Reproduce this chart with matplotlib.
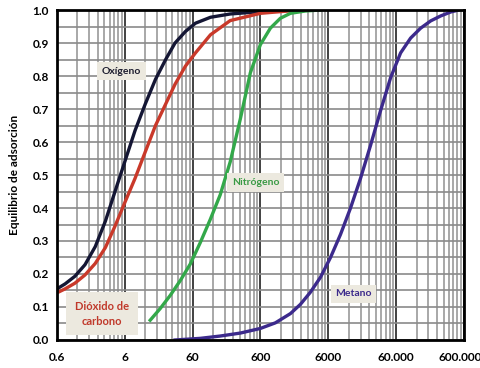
import numpy as np
import matplotlib
matplotlib.use('Agg')
import matplotlib.pyplot as plt
import matplotlib.transforms as mtransforms
from matplotlib.ticker import FixedLocator, NullFormatter

plt.rcParams['font.family'] = ['Lato', 'DejaVu Sans']
plt.rcParams['font.weight'] = 'bold'

# Datos (presion, equilibrio de adsorcion)
oxigeno_x = [0.6, 0.79, 1.1, 1.55, 2.2, 3.1, 4.3, 6.1, 8.5, 12, 17, 24, 33, 47, 66, 110, 215, 600, 2300]
oxigeno_y = [0.155, 0.17, 0.193, 0.228, 0.283, 0.36, 0.45, 0.545, 0.635, 0.715, 0.79, 0.85, 0.90, 0.935, 0.96, 0.978, 0.988, 0.995, 1.0]

co2_x = [0.6, 0.79, 1.1, 1.55, 2.2, 3.1, 4.3, 6.1, 8.5, 12, 17, 24, 33, 47, 66, 110, 215, 600, 2300]
co2_y = [0.143, 0.155, 0.172, 0.197, 0.232, 0.28, 0.345, 0.42, 0.49, 0.57, 0.65, 0.715, 0.775, 0.83, 0.87, 0.925, 0.968, 0.99, 1.0]

nitrogeno_x = [14.2, 19.9, 28, 39.4, 55.3, 77.7, 109, 153, 215, 303, 426, 598, 840, 1180, 1660, 2760, 4600]
nitrogeno_y = [0.06, 0.095, 0.135, 0.18, 0.23, 0.295, 0.365, 0.44, 0.54, 0.67, 0.81, 0.895, 0.945, 0.975, 0.99, 0.997, 1.0]

metano_x = [33, 77.7, 153, 303, 598, 996, 1660, 2330, 3275, 4600, 6470, 9090, 12770, 17940, 25200,
            35400, 49800, 69900, 98300, 138000, 194000, 272500, 383000, 502500]
metano_y = [0.0, 0.005, 0.012, 0.021, 0.035, 0.052, 0.08, 0.108, 0.145, 0.19, 0.25, 0.32, 0.40, 0.49, 0.59,
            0.695, 0.795, 0.87, 0.915, 0.945, 0.967, 0.982, 0.994, 1.0]

x_ticks = [0.6, 6, 60, 600, 6000, 60000, 600000]
x_labels = ['0.6', '6', '60', '600', '6000', '60.000', '600.000']

fig = plt.figure(figsize=(4.81, 3.68), dpi=100)
ax = fig.add_axes([0.1185, 0.0761, 0.846, 0.8967])
ax.set_xscale('log')
ax.set_xlim(0.6, 600000)
ax.set_ylim(0, 1.0)

# rejilla
minor = [0.6 * k * 10 ** n for n in range(6) for k in range(2, 10)]
ax.xaxis.set_minor_locator(FixedLocator(minor))
ax.xaxis.set_minor_formatter(NullFormatter())
ax.set_xticks(x_ticks)
ax.set_xticklabels(x_labels, fontsize=8.5, fontweight='bold')
ax.set_yticks(np.arange(0, 1.01, 0.1))
ax.set_yticklabels([f'{v:.1f}' for v in np.arange(0, 1.01, 0.1)], fontsize=8.5, fontweight='bold')
ax.yaxis.set_minor_locator(FixedLocator(np.arange(0.05, 1.0, 0.1)))
ax.grid(True, which='minor', axis='x', color='#999999', lw=1.2)
ax.grid(True, which='major', axis='x', color='#333333', lw=1.3)
ax.grid(True, which='both', axis='y', color='#8a8a8a', lw=1.2)
ax.set_axisbelow(True)
ax.tick_params(which='both', length=0, pad=9)
ax.tick_params(axis='y', pad=6)
for s in ax.spines.values():
    s.set_linewidth(2.0)
    s.set_color('black')

# la ultima etiqueta se desplaza un poco para que no se corte
last = ax.get_xticklabels()[-1]
last.set_transform(last.get_transform() + mtransforms.ScaledTranslation(-4 / 100, 0, fig.dpi_scale_trans))

ax.plot(oxigeno_x, oxigeno_y, color='#141634', lw=2.4)
ax.plot(co2_x, co2_y, color='#c9392a', lw=2.4)
ax.plot(nitrogeno_x, nitrogeno_y, color='#33a84a', lw=2.4)
ax.plot(metano_x, metano_y, color='#3c2a8c', lw=2.4)

box = dict(boxstyle='square,pad=0.45', fc='#ece9df', ec='none')
ax.text(5.3, 0.815, 'Oxígeno', color='#1e1e30', fontsize=7.5, fontweight='bold', ha='center', va='center', bbox=box)
ax.text(2.8, 0.079, 'Dióxido de\ncarbono', color='#c0392b', fontsize=8, fontweight='bold', ha='center', va='center',
        linespacing=1.35, bbox=dict(boxstyle='square,pad=0.8', fc='#ece9df', ec='none'))
ax.text(505, 0.477, 'Nitrógeno', color='#3a9a45', fontsize=7.5, fontweight='bold', ha='center', va='center', bbox=box)
ax.text(14150, 0.14, 'Metano', color='#3c2a8c', fontsize=7.5, fontweight='bold', ha='center', va='center', bbox=box)

ax.set_ylabel('Equilibrio de adsorción', fontsize=8.5, fontweight='bold', labelpad=9)

fig.savefig('out.png', dpi=100)
